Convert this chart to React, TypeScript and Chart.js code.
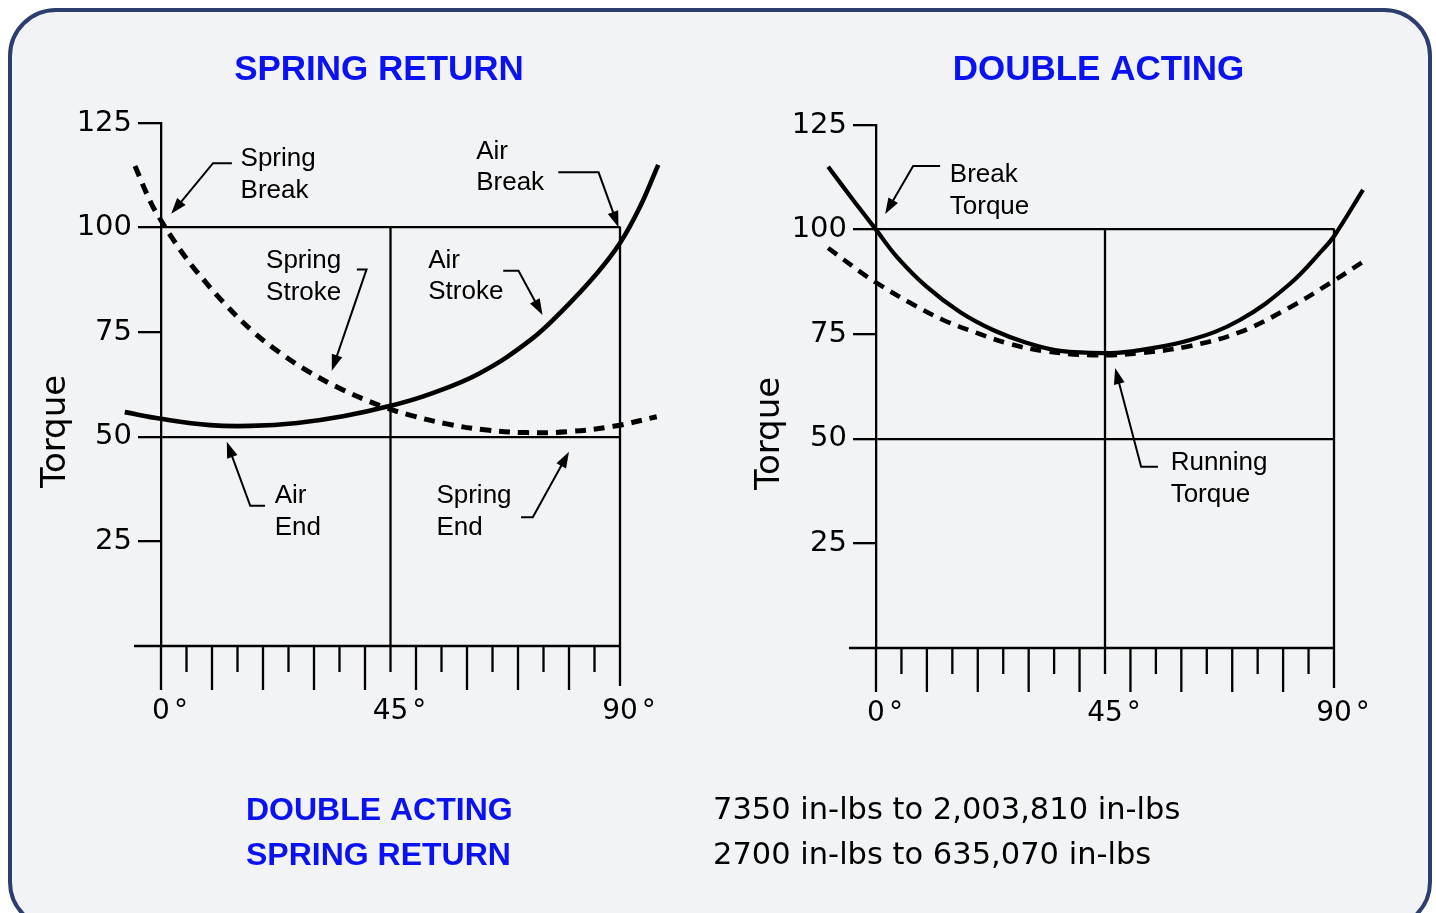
import React, { useEffect, useRef } from 'react';
import { Chart, registerables } from 'chart.js';

Chart.register(...registerables);

// ---------------- DATA ----------------
// Spring return panel
const airStrokeDeg = [-7.1, 0, 9.6, 17.5, 26.7, 35.7, 45, 52.7, 62.5, 72.4, 78.8, 85.5, 90, 93.9, 97.5];
const airStrokeTorque = [55.9, 54.3, 52.8, 52.6, 53.3, 54.9, 57.4, 60.2, 65.2, 73.1, 80.3, 89.1, 96.3, 104.9, 115.0];

const springStrokeDeg = [-5.1, -2.0, 0.1, 2.4, 4.7, 7.0, 12.2, 18.0, 23.3, 29.2, 35.7, 43.5, 48.8, 56.0, 63.9, 71.7, 79.5, 88.7, 97.2];
const springStrokeTorque = [114.7, 106.0, 101.5, 97.1, 93.1, 89.5, 82.2, 75.2, 70.1, 65.4, 61.2, 57.2, 55.2, 53.1, 51.6, 51.0, 51.2, 52.5, 54.8];

// Double acting panel
const breakTorqueDeg = [-9.4, -4.5, 0, 4.1, 10.0, 16.5, 23.0, 29.7, 36.2, 46.0, 51.9, 61.7, 71.5, 81.3, 87.8, 90, 95.7];
const breakTorqueValues = [115.0, 107.1, 100.0, 93.5, 86.3, 80.3, 76.0, 72.9, 71.0, 70.5, 71.2, 73.6, 78.4, 87.0, 95.2, 98.4, 109.5];

const runningTorqueDeg = [-9.4, -3.1, 0.2, 6.7, 13.2, 19.8, 26.3, 32.9, 42.6, 51.9, 61.7, 71.5, 81.3, 89.2, 95.7];
const runningTorqueValues = [95.6, 89.9, 87.2, 82.5, 78.4, 75.3, 72.7, 71.0, 70.0, 70.5, 72.2, 75.5, 81.4, 87.2, 92.3];

// Axes
const yTickValues = [0, 25, 50, 75, 100, 125];
const yGridValues = [50, 100];
const xGridDegs = [45, 90];
const xTickDegs = [0, 5, 10, 15, 20, 25, 30, 35, 40, 45, 50, 55, 60, 65, 70, 75, 80, 85, 90];
const xLabelDegs = [0, 45, 90];
const xLabels = ['0', '45', '90'];

// Annotations (data coordinates: degrees, torque)
type Note = { lines: string[]; at: [number, number]; leader: [number, number][] };
const springReturnNotes: Note[] = [
  { lines: ['Spring', 'Break'], at: [15.6, 116.9], leader: [[13.9, 115.4], [10.2, 115.4], [2.0, 103.3]] },
  { lines: ['Air', 'Break'], at: [61.8, 118.7], leader: [[77.9, 113.2], [85.8, 113.2], [89.7, 100.1]] },
  { lines: ['Spring', 'Stroke'], at: [20.6, 92.5], leader: [[38.4, 90.0], [40.3, 90.0], [33.5, 65.8]] },
  { lines: ['Air', 'Stroke'], at: [52.4, 92.6], leader: [[67.1, 89.7], [70.1, 89.7], [74.8, 79.1]] },
  { lines: ['Air', 'End'], at: [22.3, 36.3], leader: [[20.4, 33.5], [17.5, 33.5], [12.9, 48.8]] },
  { lines: ['Spring', 'End'], at: [54.0, 36.3], leader: [[70.6, 30.8], [72.9, 30.8], [80.0, 46.4]] },
];
const doubleActingNotes: Note[] = [
  { lines: ['Break', 'Torque'], at: [14.5, 113.6], leader: [[12.6, 115.2], [7.3, 115.2], [1.8, 103.7]] },
  { lines: ['Running', 'Torque'], at: [57.9, 44.7], leader: [[55.4, 43.3], [52.1, 43.3], [47.0, 66.9]] },
];

const bottomLabels = ['DOUBLE ACTING', 'SPRING RETURN'];
const bottomRanges = ['7350 in-lbs to 2,003,810 in-lbs', '2700 in-lbs to 635,070 in-lbs'];

// ---------------- STYLE ----------------
const BLUE = '#0a12f2';
const INK = '#000';
const NUM_FONT = '"DejaVu Sans", Verdana, sans-serif';
const NOTE_FONT = '"Liberation Sans", Arial, Helvetica, sans-serif';

type PanelSpec = {
  title: string;
  titleX: number;
  canvasLeft: number;
  width: number;
  padding: { left: number; right: number; top: number; bottom: number };
  solid: { deg: number[]; val: number[]; width: number };
  dashed: { deg: number[]; val: number[]; width: number };
  notes: Note[];
  torqueX: number;
  bottom?: { x: number; font: string; color: string; texts: string[]; baselines: number[] };
};

const panels: PanelSpec[] = [
  {
    title: 'SPRING RETURN',
    titleX: 379,
    canvasLeft: 0,
    width: 718,
    padding: { left: 61, right: 98, top: 123, bottom: 267 },
    solid: { deg: airStrokeDeg, val: airStrokeTorque, width: 4.6 },
    dashed: { deg: springStrokeDeg, val: springStrokeTorque, width: 5 },
    notes: springReturnNotes,
    torqueX: 65,
    bottom: { x: 246, font: `bold 32px ${NOTE_FONT}`, color: BLUE, texts: bottomLabels, baselines: [819.5, 864.5] },
  },
  {
    title: 'DOUBLE ACTING',
    titleX: 398.5,
    canvasLeft: 700,
    width: 736,
    padding: { left: 76, right: 102, top: 125, bottom: 265 },
    solid: { deg: breakTorqueDeg, val: breakTorqueValues, width: 4.2 },
    dashed: { deg: runningTorqueDeg, val: runningTorqueValues, width: 4.6 },
    notes: doubleActingNotes,
    torqueX: 79,
    bottom: { x: 13, font: `30.5px ${NUM_FONT}`, color: INK, texts: bottomRanges, baselines: [819, 864] },
  },
];

const HEIGHT = 913;
const LINE_W = 2.3;

function makeDecor(p: PanelSpec) {
  return {
    id: 'decor',
    beforeDatasetsDraw(chart: any) {
      const { ctx } = chart;
      const x = chart.scales.x;
      const y = chart.scales.y;
      const y0 = y.getPixelForValue(0);
      const y100 = y.getPixelForValue(100);
      ctx.save();
      ctx.strokeStyle = INK;
      ctx.lineWidth = LINE_W;
      ctx.lineCap = 'butt';
      ctx.beginPath();
      ctx.moveTo(x.getPixelForValue(0) - 27, y0);
      ctx.lineTo(x.getPixelForValue(90) + LINE_W / 2, y0);
      for (const d of xGridDegs) {
        const px = x.getPixelForValue(d);
        ctx.moveTo(px, y100 - LINE_W / 2);
        ctx.lineTo(px, y0);
      }
      xTickDegs.forEach((d, i) => {
        const px = x.getPixelForValue(d);
        const len = d === 90 ? 40 : i % 2 === 0 ? 44 : 26;
        ctx.moveTo(px, y0);
        ctx.lineTo(px, y0 + len);
      });
      ctx.stroke();
      ctx.restore();
    },
    afterDatasetsDraw(chart: any) {
      const { ctx } = chart;
      const x = chart.scales.x;
      const y = chart.scales.y;
      const y0 = y.getPixelForValue(0);
      ctx.save();

      // Title
      ctx.fillStyle = BLUE;
      ctx.font = `bold 35px ${NOTE_FONT}`;
      ctx.textAlign = 'center';
      ctx.textBaseline = 'alphabetic';
      ctx.fillText(p.title, p.titleX, 79.5);

      // X labels
      ctx.fillStyle = INK;
      ctx.font = `28px ${NUM_FONT}`;
      xLabelDegs.forEach((d, i) => {
        const px = x.getPixelForValue(d);
        const w = ctx.measureText(xLabels[i]).width;
        ctx.textAlign = 'center';
        ctx.fillText(xLabels[i], px, y0 + 73);
        ctx.textAlign = 'left';
        ctx.fillText('°', px + w / 2 + 4, y0 + 73);
      });

      // Y title
      ctx.save();
      ctx.translate(p.torqueX, (y.getPixelForValue(0) + y.getPixelForValue(125)) / 2 + 47);
      ctx.rotate(-Math.PI / 2);
      ctx.textAlign = 'center';
      ctx.font = `34px ${NUM_FONT}`;
      ctx.fillText('Torque', 0, 0);
      ctx.restore();

      // Notes
      ctx.strokeStyle = INK;
      ctx.fillStyle = INK;
      ctx.lineWidth = 2;
      ctx.lineJoin = 'miter';
      ctx.font = `26px ${NOTE_FONT}`;
      ctx.textAlign = 'left';
      for (const n of p.notes) {
        const pts = n.leader.map(([d, v]) => [x.getPixelForValue(d), y.getPixelForValue(v)]);
        const tip = pts[pts.length - 1];
        const prev = pts[pts.length - 2];
        const dx = tip[0] - prev[0];
        const dy = tip[1] - prev[1];
        const len = Math.hypot(dx, dy);
        const ux = dx / len;
        const uy = dy / len;
        const headL = 16;
        const headW = 5.5;
        ctx.beginPath();
        pts.forEach((pt, i) => {
          if (i === 0) ctx.moveTo(pt[0], pt[1]);
          else if (i === pts.length - 1) ctx.lineTo(pt[0] - ux * (headL - 4), pt[1] - uy * (headL - 4));
          else ctx.lineTo(pt[0], pt[1]);
        });
        ctx.stroke();
        ctx.beginPath();
        ctx.moveTo(tip[0], tip[1]);
        ctx.lineTo(tip[0] - ux * headL - uy * headW, tip[1] - uy * headL + ux * headW);
        ctx.lineTo(tip[0] - ux * headL + uy * headW, tip[1] - uy * headL - ux * headW);
        ctx.closePath();
        ctx.fill();
        const tx = x.getPixelForValue(n.at[0]);
        const ty = y.getPixelForValue(n.at[1]);
        n.lines.forEach((line, i) => {
          ctx.fillText(line, tx, ty + 9.3 + i * 31.6);
        });
      }

      // Bottom text
      if (p.bottom) {
        const b = p.bottom;
        ctx.fillStyle = b.color;
        ctx.font = b.font;
        ctx.textAlign = 'left';
        b.texts.forEach((t, i) => ctx.fillText(t, b.x, b.baselines[i]));
      }
      ctx.restore();
    },
  };
}

function buildChart(canvas: HTMLCanvasElement, p: PanelSpec) {
  const toPts = (deg: number[], val: number[]) => deg.map((d, i) => ({ x: d, y: val[i] }));
  return new Chart(canvas, {
    type: 'line',
    data: {
      datasets: [
        {
          data: toPts(p.solid.deg, p.solid.val),
          borderColor: INK,
          borderWidth: p.solid.width,
          pointRadius: 0,
          tension: 0.4,
          clip: false,
          fill: false,
        } as any,
        {
          data: toPts(p.dashed.deg, p.dashed.val),
          borderColor: INK,
          borderWidth: p.dashed.width,
          borderDash: [11, 8],
          pointRadius: 0,
          tension: 0.4,
          clip: false,
          fill: false,
        } as any,
      ],
    },
    options: {
      animation: false,
      responsive: false,
      events: [],
      layout: { padding: p.padding },
      plugins: { legend: { display: false }, tooltip: { enabled: false }, title: { display: false } },
      scales: {
        x: {
          type: 'linear',
          display: false,
          bounds: 'data',
          afterDataLimits: (scale: any) => {
            scale.min = 0;
            scale.max = 90;
          },
        },
        y: {
          type: 'linear',
          min: 0,
          max: 125,
          afterBuildTicks: (scale: any) => {
            scale.ticks = yTickValues.map((v) => ({ value: v }));
          },
          afterFit: (scale: any) => {
            scale.width = 100;
          },
          ticks: {
            color: INK,
            padding: 6,
            font: { family: NUM_FONT, size: 29 },
            callback: (v: any) => (v === 0 ? '' : String(v)),
          },
          grid: {
            color: (c: any) => (yGridValues.includes(c.tick?.value) ? INK : 'rgba(0,0,0,0)'),
            tickColor: (c: any) => (c.tick?.value === 0 ? 'rgba(0,0,0,0)' : INK),
            lineWidth: LINE_W,
            tickLength: 23,
            drawTicks: true,
          },
          border: { display: true, color: INK, width: LINE_W },
        },
      },
    } as any,
    plugins: [makeDecor(p)],
  });
}

function Panel({ spec }: { spec: PanelSpec }) {
  const ref = useRef<HTMLCanvasElement | null>(null);
  useEffect(() => {
    if (!ref.current) return;
    const chart = buildChart(ref.current, spec);
    return () => chart.destroy();
  }, [spec]);
  return (
    <canvas
      ref={ref}
      width={spec.width}
      height={HEIGHT}
      style={{ position: 'absolute', left: spec.canvasLeft, top: 0, width: spec.width, height: HEIGHT }}
    />
  );
}

export default function App() {
  return (
    <div
      style={{
        position: 'absolute',
        left: 0,
        top: 0,
        width: 1436,
        height: 913,
        overflow: 'hidden',
        background: '#ffffff',
      }}
    >
      <div
        style={{
          position: 'absolute',
          left: 8,
          top: 8,
          width: 1424,
          height: 922,
          boxSizing: 'border-box',
          border: '4.5px solid #2b3e6e',
          borderRadius: 48,
          background: '#f2f3f5',
        }}
      />
      {panels.map((p) => (
        <Panel key={p.title} spec={p} />
      ))}
    </div>
  );
}
